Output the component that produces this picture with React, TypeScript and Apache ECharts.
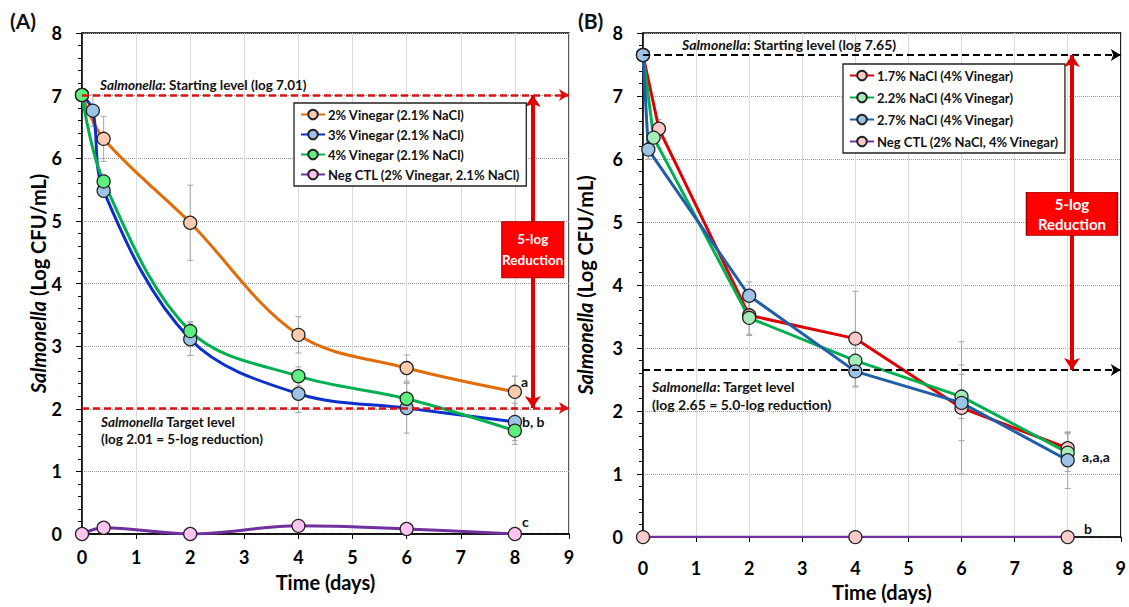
import React, { useEffect, useRef } from "react";
import * as echarts from "echarts";

const FONT = "Lato, 'Noto Sans', sans-serif";

// ---------- Panel A data ----------
const namesA = [
  "2% Vinegar (2.1% NaCl)",
  "3% Vinegar (2.1% NaCl)",
  "4% Vinegar (2.1% NaCl)",
  "Neg CTL (2% Vinegar, 2.1% NaCl)",
];
const daysA2 = [0, 0.4, 2, 4, 6, 8];
const vinegar2 = [7.01, 6.31, 4.97, 3.18, 2.65, 2.27];
const err2 = [0.08, 0.36, 0.6, 0.29, 0.21, 0.25];
const daysA3 = [0, 0.2, 0.4, 2, 4, 6, 8];
const vinegar3 = [7.01, 6.76, 5.48, 3.11, 2.24, 2.01, 1.79];
const err3 = [0.05, 0.25, 0.1, 0.26, 0.3, 0.4, 0.3];
const daysA4 = [0, 0.4, 2, 4, 6, 8];
const vinegar4 = [7.01, 5.63, 3.24, 2.52, 2.16, 1.65];
const err4 = [0.05, 0.1, 0.15, 0.15, 0.25, 0.22];
const daysANeg = [0, 0.4, 2, 4, 6, 8];
const negA = [0, 0.1, 0, 0.13, 0.08, 0];

// ---------- Panel B data ----------
const namesB = [
  "1.7% NaCl (4% Vinegar)",
  "2.2% NaCl (4% Vinegar)",
  "2.7% NaCl (4% Vinegar)",
  "Neg CTL (2% NaCl, 4% Vinegar)",
];
const daysB17 = [0, 0.3, 2, 4, 6, 8];
const nacl17 = [7.65, 6.48, 3.52, 3.15, 2.05, 1.41];
const err17 = [0.05, 0.15, 0.3, 0.75, 1.05, 0.25];
const daysB22 = [0, 0.2, 2, 4, 6, 8];
const nacl22 = [7.65, 6.34, 3.48, 2.8, 2.23, 1.34];
const err22 = [0.05, 0.15, 0.28, 0.2, 0.35, 0.3];
const daysB27 = [0, 0.1, 2, 4, 6, 8];
const nacl27 = [7.65, 6.15, 3.83, 2.63, 2.13, 1.22];
const err27 = [0.05, 0.15, 0.22, 0.25, 0.6, 0.45];
const daysBNeg = [0, 4, 8];
const negB = [0, 0, 0];

// reference levels
const startA = 7.01;
const targetA = 2.01;
const startB = 7.65;
const targetB = 2.65;
const arrowXA = 8.33;
const arrowXB = 8.08;

const pts = (xs: number[], ys: number[]) => xs.map((x, i) => [x, ys[i]]);
const errPts = (xs: number[], ys: number[], es: number[]) =>
  xs.map((x, i) => [x, ys[i] - es[i], ys[i] + es[i]]);

const errRender = (params: any, api: any) => {
  const x = api.value(0);
  const lo = api.value(1);
  const hi = api.value(2);
  const t = api.coord([x, hi]);
  const b = api.coord([x, lo]);
  const w = 3;
  const st = { stroke: "#a6a6a6", lineWidth: 1 };
  return {
    type: "group",
    children: [
      { type: "line", shape: { x1: t[0], y1: t[1], x2: b[0], y2: b[1] }, style: st },
      { type: "line", shape: { x1: t[0] - w, y1: t[1], x2: t[0] + w, y2: t[1] }, style: st },
      { type: "line", shape: { x1: b[0] - w, y1: b[1], x2: b[0] + w, y2: b[1] }, style: st },
    ],
  };
};

const lineSeries = (
  name: string,
  idx: number,
  data: number[][],
  color: string,
  fill: string,
  smooth: boolean,
  width = 3
) => ({
  type: "line",
  name,
  xAxisIndex: idx,
  yAxisIndex: idx,
  data,
  smooth: smooth ? 0.35 : false,
  symbol: "circle",
  symbolSize: 13,
  showSymbol: true,
  lineStyle: { color, width },
  itemStyle: { color: fill, borderColor: "#222", borderWidth: 1.3 },
  z: 3,
});

const errSeries = (idx: number, data: number[][]) => ({
  type: "custom",
  xAxisIndex: idx,
  yAxisIndex: idx,
  renderItem: errRender,
  data,
  encode: { x: 0, y: [1, 2] },
  silent: true,
  z: 1,
});

const xAxisBase = (idx: number, margin: number, nameGap: number) => ({
  type: "value",
  gridIndex: idx,
  min: 0,
  max: 9,
  interval: 1,
  name: "Time (days)",
  nameLocation: "middle",
  nameGap,
  nameTextStyle: { fontSize: 20, fontWeight: "bold", fontFamily: FONT, color: "#000" },
  axisLine: { show: true, onZero: false, lineStyle: { color: "#000", width: 1.5 } },
  axisTick: { show: true, length: 5, lineStyle: { color: "#000" } },
  axisLabel: { margin, fontSize: 18, fontWeight: "bold", fontFamily: FONT, color: "#000" },
  splitLine: { show: true, lineStyle: { color: "#dcdcdc", width: 1 } },
});

const yAxisBase = (idx: number, nameGap: number) => ({
  type: "value",
  gridIndex: idx,
  min: 0,
  max: 8,
  interval: 1,
  name: "{i|Salmonella} (Log CFU/mL)",
  nameLocation: "middle",
  nameRotate: 90,
  nameGap,
  nameTextStyle: {
    fontSize: 20,
    fontWeight: "bold",
    fontFamily: FONT,
    color: "#000",
    rich: { i: { fontSize: 20, fontWeight: "bold", fontStyle: "italic", fontFamily: FONT, color: "#000" } },
  },
  axisLine: { show: true, onZero: false, lineStyle: { color: "#000", width: 1.5 } },
  axisTick: { show: true, length: 6, lineStyle: { color: "#000" } },
  minorTick: { show: true, splitNumber: 5, length: 4, lineStyle: { color: "#000" } },
  axisLabel: { margin: 20, fontSize: 18, fontWeight: "bold", fontFamily: FONT, color: "#000" },
  splitLine: { show: true, lineStyle: { color: "#9a9a9a", type: "dotted", width: 1 } },
});

const txt = (x: number, y: number, text: string, size = 13.5, extra: any = {}) => ({
  type: "text",
  x,
  y,
  z: 20,
  style: {
    text,
    fontSize: size,
    fontWeight: "bold",
    fontFamily: FONT,
    fill: "#111",
    verticalAlign: "middle",
    rich: {
      i: { fontSize: size, fontWeight: "bold", fontStyle: "italic", fontFamily: FONT, fill: "#111" },
    },
    ...extra,
  },
});

const legendBase = (left: number, top: number, data: string[], gap: number) => ({
  data,
  orient: "vertical",
  left,
  top,
  itemWidth: 24,
  itemHeight: 12,
  itemGap: gap,
  padding: [5, 6, 5, 6],
  backgroundColor: "#fff",
  borderColor: "#222",
  borderWidth: 1.3,
  borderRadius: 0,
  textStyle: { fontSize: 13, fontWeight: "bold", fontFamily: FONT, color: "#111", padding: [0, 0, 0, -2] },
  selectedMode: false,
  z: 10,
});

export default function App() {
  const ref = useRef<HTMLDivElement>(null);
  useEffect(() => {
    if (!ref.current) return;
    const chart = echarts.init(ref.current, null, { renderer: "svg" });
    const option: any = {
      animation: false,
      backgroundColor: "#fff",
      grid: [
        { left: 82, top: 33, width: 487, height: 501, show: true, borderColor: "#000", borderWidth: 1.3, backgroundColor: "transparent" },
        { left: 643, top: 33, width: 479, height: 506, show: true, borderColor: "#000", borderWidth: 1.3, backgroundColor: "transparent" },
      ],
      xAxis: [xAxisBase(0, 14, 38), xAxisBase(1, 22, 43)],
      yAxis: [yAxisBase(0, 30), yAxisBase(1, 48)],
      legend: [legendBase(294, 103, namesA, 7), legendBase(843, 64, namesB, 9)],
      series: [
        errSeries(0, errPts(daysA2, vinegar2, err2)),
        errSeries(0, errPts(daysA3, vinegar3, err3)),
        errSeries(0, errPts(daysA4, vinegar4, err4)),
        lineSeries(namesA[0], 0, pts(daysA2, vinegar2), "#e36c0a", "#f8cbad", true),
        lineSeries(namesA[1], 0, pts(daysA3, vinegar3), "#0a2fcc", "#9dc3e6", true),
        lineSeries(namesA[2], 0, pts(daysA4, vinegar4), "#00b050", "#5ef07e", true),
        {
          ...lineSeries(namesA[3], 0, pts(daysANeg, negA), "#7030a0", "#ffc4f2", true),
          markLine: {
            silent: true,
            animation: false,
            label: { show: false },
            z: 5,
            data: [
              [
                { coord: [0, startA], symbol: "none", lineStyle: { color: "#e01010", width: 2.5, type: [7, 4] } },
                { coord: [9, startA], symbol: "arrow", symbolSize: [9, 10] },
              ],
              [
                { coord: [0, targetA], symbol: "none", lineStyle: { color: "#e01010", width: 2.5, type: [7, 4] } },
                { coord: [9, targetA], symbol: "arrow", symbolSize: [9, 10] },
              ],
              [
                { coord: [arrowXA, startA], symbol: "arrow", symbolSize: [12, 12], lineStyle: { color: "#e00000", width: 4, type: "solid" } },
                { coord: [arrowXA, targetA], symbol: "arrow", symbolSize: [12, 12] },
              ],
            ],
          },
          markPoint: {
            silent: true,
            animation: false,
            z: 8,
            data: [
              {
                coord: [arrowXA, 4.54],
                symbol: "rect",
                symbolSize: [62, 56],
                itemStyle: { color: "#ff0000", borderColor: "#a00000", borderWidth: 1 },
                label: {
                  show: true,
                  position: "inside",
                  formatter: "5-log\nReduction",
                  color: "#fff",
                  fontSize: 13.5,
                  fontWeight: "bold",
                  fontFamily: FONT,
                  lineHeight: 21,
                },
              },
            ],
          },
        },
        errSeries(1, errPts(daysB17, nacl17, err17)),
        errSeries(1, errPts(daysB22, nacl22, err22)),
        errSeries(1, errPts(daysB27, nacl27, err27)),
        lineSeries(namesB[0], 1, pts(daysB17, nacl17), "#e00000", "#f9c8c8", false),
        lineSeries(namesB[1], 1, pts(daysB22, nacl22), "#00b050", "#a6ecb8", false),
        lineSeries(namesB[2], 1, pts(daysB27, nacl27), "#1f5ea8", "#9dc3e6", false),
        {
          ...lineSeries(namesB[3], 1, pts(daysBNeg, negB), "#7030a0", "#f9cccc", false, 2.5),
          markLine: {
            silent: true,
            animation: false,
            label: { show: false },
            z: 5,
            data: [
              [
                { coord: [0, startB], symbol: "none", lineStyle: { color: "#000", width: 2.2, type: [7, 4] } },
                { coord: [9, startB], symbol: "arrow", symbolSize: [9, 10] },
              ],
              [
                { coord: [0, targetB], symbol: "none", lineStyle: { color: "#000", width: 2.2, type: [7, 4] } },
                { coord: [9, targetB], symbol: "arrow", symbolSize: [9, 10] },
              ],
              [
                { coord: [arrowXB, startB], symbol: "arrow", symbolSize: [12, 12], lineStyle: { color: "#e00000", width: 4, type: "solid" } },
                { coord: [arrowXB, targetB], symbol: "arrow", symbolSize: [12, 12] },
              ],
            ],
          },
          markPoint: {
            silent: true,
            animation: false,
            z: 8,
            data: [
              {
                coord: [arrowXB, 5.13],
                symbol: "rect",
                symbolSize: [91, 43],
                itemStyle: { color: "#ff0000", borderColor: "#a00000", borderWidth: 1 },
                label: {
                  show: true,
                  position: "inside",
                  formatter: "5-log\nReduction",
                  color: "#fff",
                  fontSize: 15,
                  fontWeight: "bold",
                  fontFamily: FONT,
                  lineHeight: 20,
                },
              },
            ],
          },
        },
      ],
      graphic: [
        txt(10, 20, "(A)", 21),
        txt(578, 20, "(B)", 21),
        txt(100, 85, "{i|Salmonella}: Starting level (log 7.01)"),
        txt(101, 422, "{i|Salmonella} Target level"),
        txt(101, 439, "(log 2.01 = 5-log reduction)"),
        txt(682, 44, "{i|Salmonella}: Starting level (log 7.65)", 14),
        txt(652, 386, "{i|Salmonella}: Target level", 14),
        txt(652, 404, "(log 2.65 = 5.0-log reduction)", 14),
        txt(521, 381, "a", 14),
        txt(522, 421, "b, b", 14),
        txt(522, 521, "c", 14),
        txt(1082, 456, "a,a,a", 14),
        txt(1084, 528, "b", 14),
      ],
    };
    chart.setOption(option);
    return () => chart.dispose();
  }, []);
  return (
    <div
      ref={ref}
      style={{ position: "absolute", left: 0, top: 0, width: 1129, height: 607, background: "#fff" }}
    />
  );
}
